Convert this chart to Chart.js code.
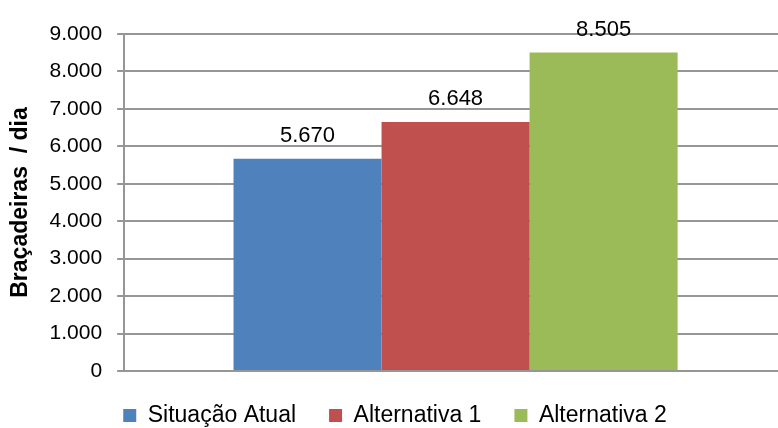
<!DOCTYPE html>
<html>
<head>
<meta charset="utf-8">
<script src="https://cdn.jsdelivr.net/npm/chart.js@4.4.1/dist/chart.umd.min.js"></script>
<style>
html, body { margin: 0; padding: 0; background: #fff; overflow: hidden; }
#wrap { width: 778px; height: 428px; overflow: hidden; }
</style>
</head>
<body>
<div id="wrap"><canvas id="chartBracadeiras" width="787" height="428"></canvas></div>
<script>
var categories = [''];
var seriesNames = ['Situação Atual', 'Alternativa 1', 'Alternativa 2'];
var seriesValues = [5670, 6648, 8505];
var seriesColors = ['#4F81BD', '#C0504D', '#9BBB59'];
var yMin = 0;
var yMax = 9000;
var yStep = 1000;
var yTitle = 'Braçadeiras  / dia';

var fontFamily = '"Liberation Sans", Arial, sans-serif';
var gridColor = '#969696';

// pt-BR style thousands separator: 9000 -> 9.000
function formatNumber(v) {
    return String(v).replace(/\B(?=(\d{3})+(?!\d))/g, '.');
}

var datasets = seriesNames.map(function (name, i) {
    return {
        label: name,
        data: [seriesValues[i]],
        backgroundColor: seriesColors[i],
        borderWidth: 0,
        categoryPercentage: 0.67,
        barPercentage: 1.0
    };
});

// value labels above each bar
var valueLabels = {
    id: 'valueLabels',
    afterDatasetsDraw: function (chart) {
        var ctx = chart.ctx;
        ctx.save();
        ctx.font = '22px ' + fontFamily;
        ctx.fillStyle = '#000';
        ctx.textAlign = 'center';
        ctx.textBaseline = 'alphabetic';
        chart.data.datasets.forEach(function (ds, i) {
            chart.getDatasetMeta(i).data.forEach(function (bar, j) {
                ctx.fillText(formatNumber(ds.data[j]), bar.x, bar.y - 17);
            });
        });
        ctx.restore();
    }
};

var canvas = document.querySelector('#chartBracadeiras').getContext('2d');

var chart = new Chart(canvas, {
    type: 'bar',
    data: {
        labels: categories,
        datasets: datasets
    },
    plugins: [valueLabels],
    options: {
        responsive: false,
        maintainAspectRatio: false,
        animation: false,
        layout: {
            padding: { top: 34, left: 3, right: 0, bottom: -9 }
        },
        plugins: {
            tooltip: { enabled: false },
            legend: {
                position: 'bottom',
                labels: {
                    boxWidth: 13,
                    boxHeight: 13,
                    padding: 33,
                    color: '#000',
                    font: { family: fontFamily, size: 23 }
                }
            }
        },
        scales: {
            x: {
                ticks: { display: false },
                grid: { display: false, drawTicks: false },
                border: { display: true, color: gridColor, width: 2 }
            },
            y: {
                min: yMin,
                max: yMax,
                ticks: {
                    stepSize: yStep,
                    padding: 15,
                    color: '#000',
                    font: { family: fontFamily, size: 21 },
                    callback: function (value) { return formatNumber(value); }
                },
                grid: {
                    color: gridColor,
                    lineWidth: 2,
                    tickLength: 7,
                    drawTicks: true
                },
                border: { display: true, color: gridColor, width: 2 },
                title: {
                    display: true,
                    text: yTitle,
                    color: '#000',
                    padding: { top: 4, bottom: 0 },
                    font: { family: fontFamily, size: 23, weight: 'bold' }
                }
            }
        }
    }
});
</script>
</body>
</html>
